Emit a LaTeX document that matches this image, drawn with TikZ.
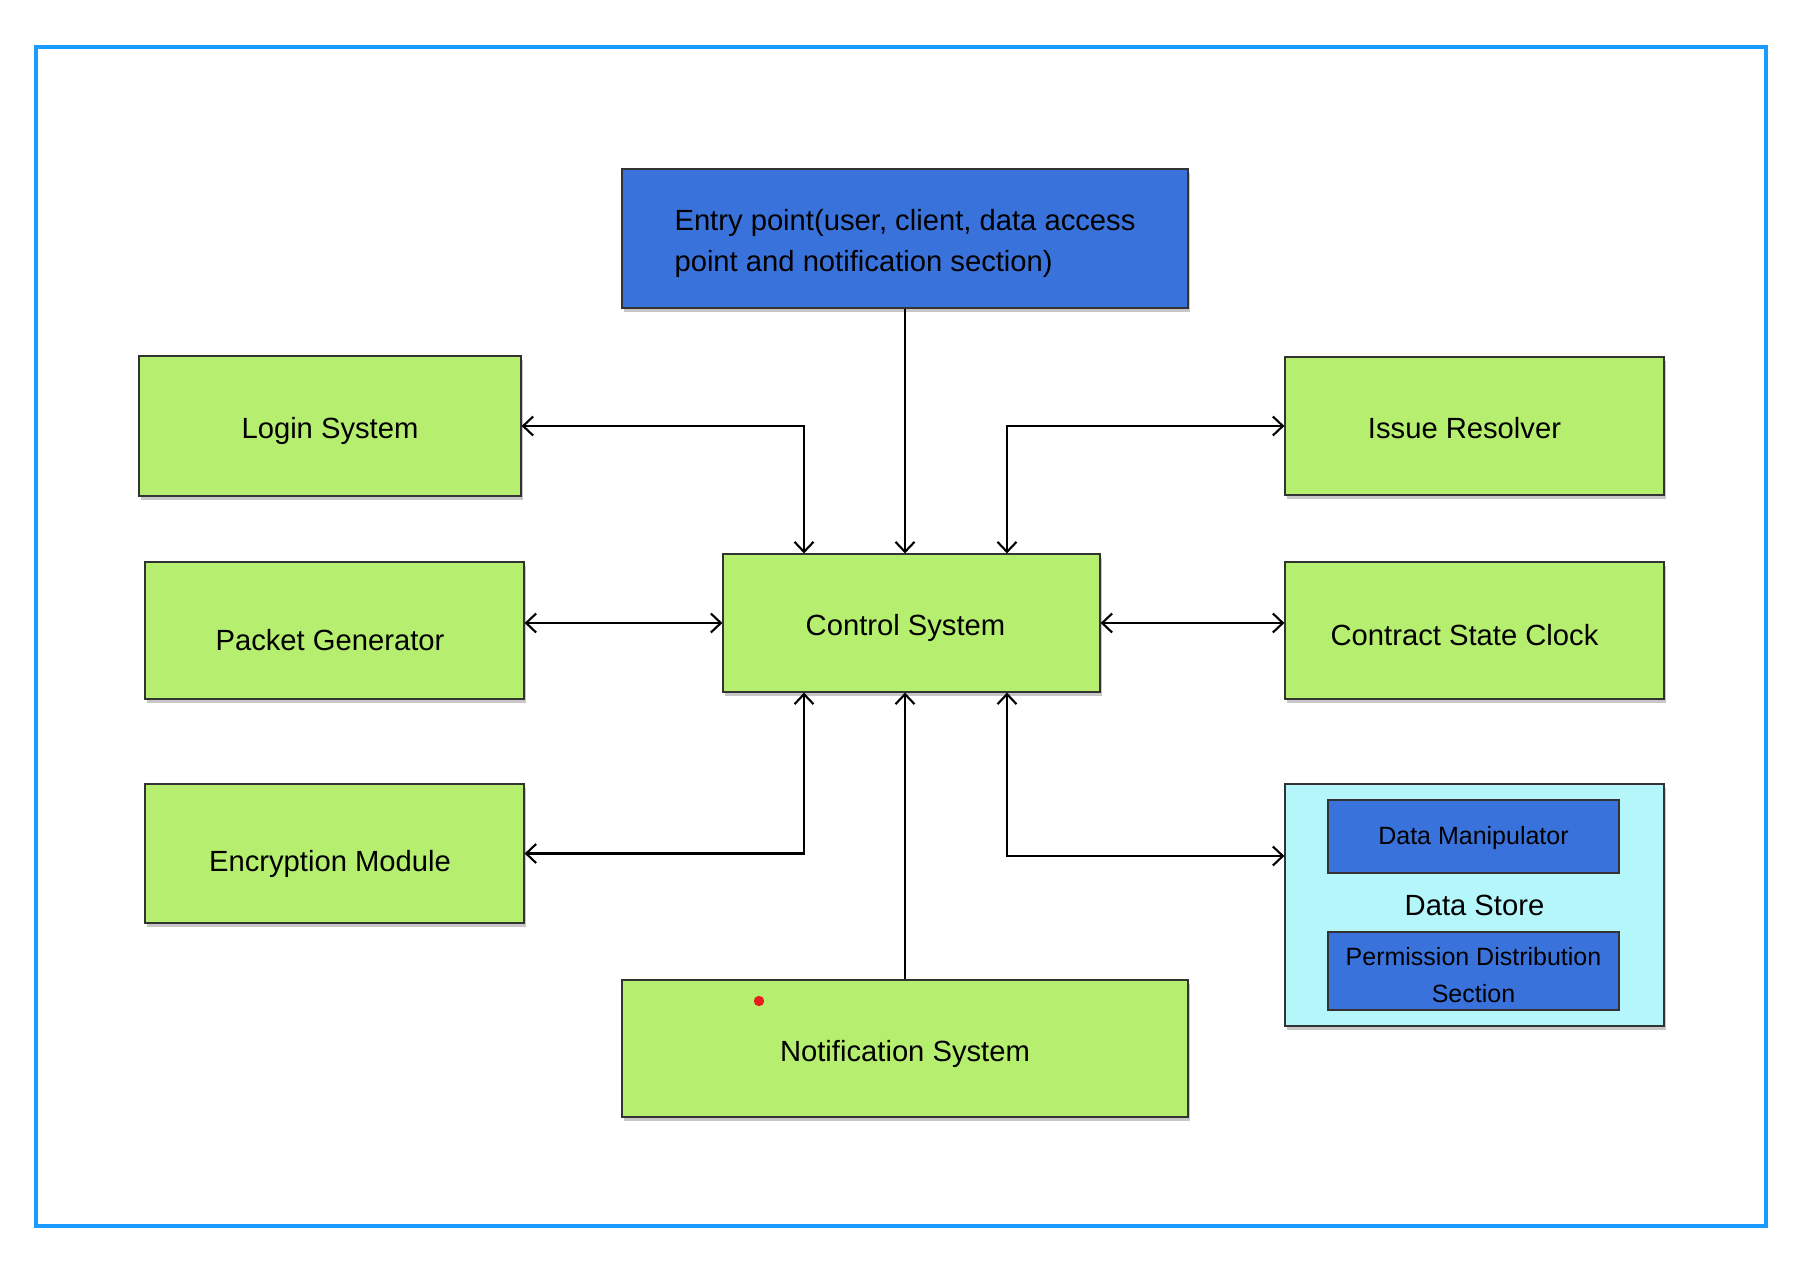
\documentclass[tikz,border=0pt]{standalone}
\usepackage{fontspec}
\setmainfont{Liberation Sans}
\usetikzlibrary{arrows.meta,shadows}
\definecolor{gfill}{HTML}{B6EE6F}
\definecolor{bfill}{HTML}{3A72DC}
\definecolor{cfill}{HTML}{B4F6FA}
\definecolor{frame}{HTML}{1A9BFF}
\definecolor{edge}{HTML}{333333}
\definecolor{dotred}{HTML}{E81C1C}
\newcommand{\dn}[2]{\raisebox{-#1}[\height][\depth]{#2}}
\tikzset{
  box/.style={draw=edge, line width=0.6pt, inner sep=0pt, font=\fontsize{14.6}{20.5}\selectfont,
    drop shadow={shadow xshift=1pt, shadow yshift=-1.8pt, opacity=0.22, fill=black}},
  gbox/.style={box, fill=gfill},
  bbox/.style={box, fill=bfill},
  cbox/.style={box, fill=cfill},
  inbox/.style={draw=edge, line width=0.6pt, fill=bfill, inner sep=0pt, align=center,
    font=\fontsize{12.5}{17.9}\selectfont},
  arr/.style={line width=1.05pt, draw=black},
  tip/.tip={Straight Barb[length=5pt,width=9.5pt,line width=1.05pt]},
}
\begin{document}
\begin{tikzpicture}[x=0.5pt,y=-0.5pt]
\useasboundingbox (0,0) rectangle (1806,1280);
\fill[white] (0,0) rectangle (1806,1280);
\draw[frame, line width=2.2pt] (36,47) rectangle (1766,1226);

\node[bbox, minimum width=283pt, minimum height=69.5pt] (entry) at (905,238.5)
  {\dn{2.3pt}{\begin{tabular}{@{}l@{}}Entry point(user, client, data access\\point and notification section)\end{tabular}}};
\node[gbox, minimum width=191pt, minimum height=70pt] (login) at (330,426) {\dn{2.3pt}{Login System}};
\node[gbox, minimum width=189.5pt, minimum height=68.5pt] (packet) at (334.5,630.5)
  {\hspace*{-4.5pt}\dn{4.6pt}{Packet Generator}};
\node[gbox, minimum width=189.5pt, minimum height=69.5pt] (enc) at (334.5,853.5)
  {\hspace*{-4.5pt}\dn{5pt}{Encryption Module}};
\node[gbox, minimum width=188.5pt, minimum height=69pt] (control) at (911.5,623)
  {\hspace*{-6pt}\dn{2.3pt}{Control System}};
\node[gbox, minimum width=283pt, minimum height=68.5pt] (notif) at (905,1048.5) {\dn{2.6pt}{Notification System}};
\node[gbox, minimum width=189.5pt, minimum height=69pt] (issue) at (1474.5,426)
  {\hspace*{-10pt}\dn{1.2pt}{Issue Resolver}};
\node[gbox, minimum width=189.5pt, minimum height=68.5pt] (contract) at (1474.5,630.5)
  {\hspace*{-10pt}\dn{2.3pt}{Contract State Clock}};
\node[cbox, minimum width=189.5pt, minimum height=121pt] (ds) at (1474.5,905) {Data Store};
\node[inbox, minimum width=145.5pt, minimum height=36.5pt] (dm) at (1473.5,836.5) {\dn{0.6pt}{Data Manipulator}};
\node[inbox, minimum width=145.5pt, minimum height=39pt] (pd) at (1473.5,971)
  {\dn{3pt}{\begin{tabular}{@{}c@{}}Permission Distribution\\[0.4pt]Section\end{tabular}}};

\fill[dotred] (759,1001) circle (2.6pt);

% connectors
\draw[arr, -{tip}] (entry.south) -- (entry.south |- control.north);
\draw[arr, {tip}-{tip}] ([xshift=-53.75pt]control.north) |- (login.east);
\draw[arr, {tip}-{tip}] ([xshift=47.75pt]control.north) |- (issue.west);
\draw[arr, {tip}-{tip}] (packet.east |- control.west) -- (control.west);
\draw[arr, {tip}-{tip}] (control.east) -- (contract.west |- control.east);
\draw[arr, {tip}-{tip}] ([xshift=-53.75pt]control.south) |- (enc.east);
\draw[arr, {tip}-{tip}] ([xshift=47.75pt]control.south) |- ([yshift=24.5pt]ds.west);
\draw[arr, -{tip}] (notif.north) -- (notif.north |- control.south);
\end{tikzpicture}
\end{document}
